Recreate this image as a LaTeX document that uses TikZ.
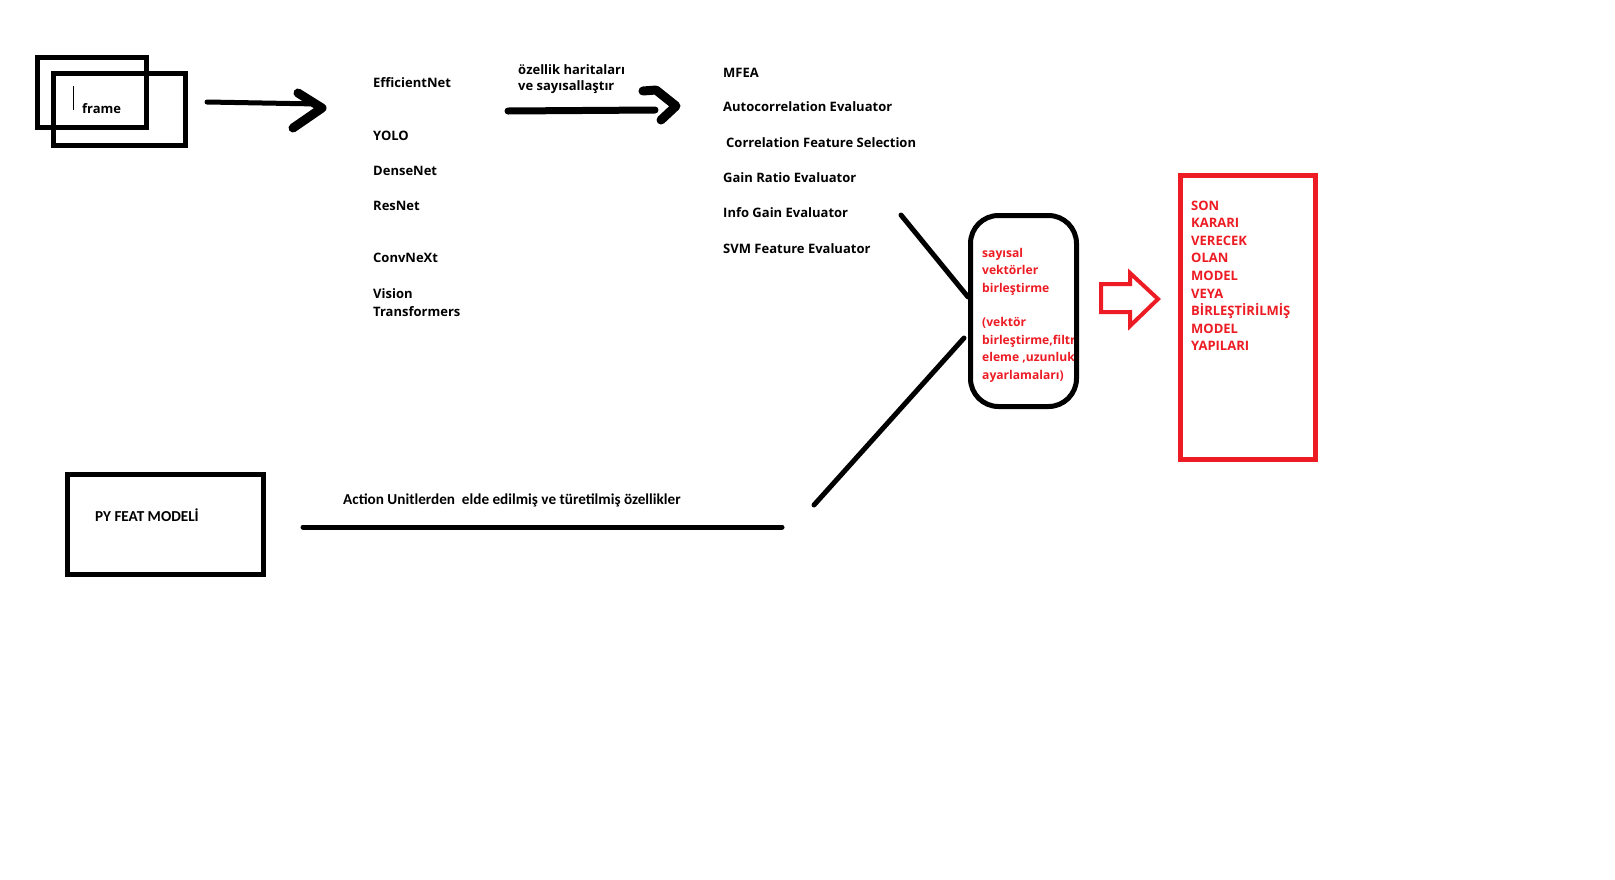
\documentclass[tikz,border=0pt]{standalone}
\usepackage{fontspec}
\setmainfont{Open Sans}
\newfontfamily\calib{Carlito}
\definecolor{pred}{RGB}{237,28,36}
\begin{document}
\begin{tikzpicture}[x=1pt,y=-1pt,
  lbl/.style={anchor=base west, inner sep=0pt, font=\bfseries\fontsize{13}{17.4}\selectfont, align=left},
  rlbl/.style={lbl, text=pred},
  clbl/.style={anchor=base west, inner sep=0pt, font=\calib\bfseries\fontsize{15.2}{18}\selectfont},
  bbox/.style={draw=black, line width=5pt, inner sep=0pt},
  pen/.style={draw=black, line width=5pt, line cap=round, line join=round},
  head/.style={draw=black, line width=9pt, line cap=round, line join=round},
  blockarrow/.style={draw=pred, line width=4pt, line join=miter}]
\useasboundingbox[fill=white] (0,0) rectangle (1615,879);

% frame boxes
\node[bbox, minimum width=109pt, minimum height=70pt] (frm1) at (92,92.5) {};
\node[bbox, minimum width=132pt, minimum height=72pt] (frm2) at (119.5,109.5) {};
\coordinate (curT) at (73,86);
\coordinate (curB) at (73,110);
\draw[line width=1pt] (curT) -- (curB);
\node[lbl] (frmtxt) at (82,113) {frame};

% arrow 1
\coordinate (a1s) at (207,102);
\coordinate (a1e) at (318,104);
\coordinate (h1a) at (298,93);
\coordinate (h1b) at (322,108);
\coordinate (h1c) at (293,128);
\draw[pen] (a1s) -- (a1e);
\draw[head] (h1a) -- (h1b) -- (h1c);

% models
\node[lbl] (eff) at (373,87) {EfficientNet};
\node[lbl] (yolo) at (373,140) {YOLO};
\node[lbl] (dense) at (373,175) {DenseNet};
\node[lbl] (res) at (373,210) {ResNet};
\node[lbl] (conv) at (373,262) {ConvNeXt};
\node[lbl] (vit) at (373,316) {Vision\\Transformers};

% arrow 2
\node[lbl, font=\bfseries\fontsize{13}{15.5}\selectfont] (ozl) at (518,90) {özellik haritaları\\ve sayısallaştır};
\coordinate (a2s) at (508,111);
\coordinate (a2e) at (655,110);
\coordinate (h2a) at (643,91);
\coordinate (h2b) at (656,90);
\coordinate (h2c) at (676,106);
\coordinate (h2d) at (661,120);
\draw[pen, line width=7pt] (a2s) -- (a2e);
\draw[head] (h2a) -- (h2b) -- (h2c) -- (h2d);

% feature selection
\node[lbl] (mfea) at (723,77) {MFEA};
\node[lbl] (auto) at (723,111) {Autocorrelation Evaluator};
\node[lbl] (cfs) at (726,147) {Correlation Feature Selection};
\node[lbl] (gain) at (723,182) {Gain Ratio Evaluator};
\node[lbl] (info) at (723,217) {Info Gain Evaluator};
\node[lbl] (svm) at (723,253) {SVM Feature Evaluator};

% merge box
\begin{scope}
\clip (960,220) rectangle (1075,400);
\node[rlbl, font=\bfseries\fontsize{12.1}{17.4}\selectfont] (mtxt) at (982,379) {sayısal\\vektörler\\birleştirme\\[17.4pt](vektör\\birleştirme,filtr\\eleme ,uzunluk\\ayarlamaları)};
\end{scope}
\node[bbox, rounded corners=28pt, minimum width=106pt, minimum height=191pt] (merge) at (1023.5,311) {};

% connectors into merge box
\coordinate (d1s) at (901,215);
\coordinate (d1e) at (968,297);
\coordinate (d2s) at (814,505);
\coordinate (d2e) at (964,338);
\draw[pen] (d1s) -- (d1e);
\draw[pen] (d2s) -- (d2e);

% block arrow
\coordinate (ba1) at (1101,284);
\coordinate (ba2) at (1130,284);
\coordinate (ba3) at (1130,273);
\coordinate (ba4) at (1158,299);
\coordinate (ba5) at (1130,326);
\coordinate (ba6) at (1130,312);
\coordinate (ba7) at (1101,312);
\draw[blockarrow] (ba1) -- (ba2) -- (ba3) -- (ba4) -- (ba5) -- (ba6) -- (ba7) -- cycle;

% final box
\node[draw=pred, line width=5pt, inner sep=0pt, minimum width=135pt, minimum height=284pt] (final) at (1248,317.5) {};
\node[rlbl, font=\bfseries\fontsize{13}{17.6}\selectfont] (ftxt) at (1191,350.8) {SON\\KARARI\\VERECEK\\OLAN\\MODEL\\VEYA\\BİRLEŞTİRİLMİŞ\\MODEL\\YAPILARI};

% PY FEAT
\node[bbox, minimum width=196pt, minimum height=100pt] (pyf) at (165.5,524.5) {};
\node[clbl] (pyftxt) at (95,521) {PY FEAT MODELİ};
\node[clbl] (autxt) at (343,504) {Action Unitlerden\ \ elde edilmiş ve türetilmiş özellikler};
\coordinate (hl1) at (303,527);
\coordinate (hl2) at (782,527);
\draw[pen] (hl1) -- (hl2);
\end{tikzpicture}
\end{document}
